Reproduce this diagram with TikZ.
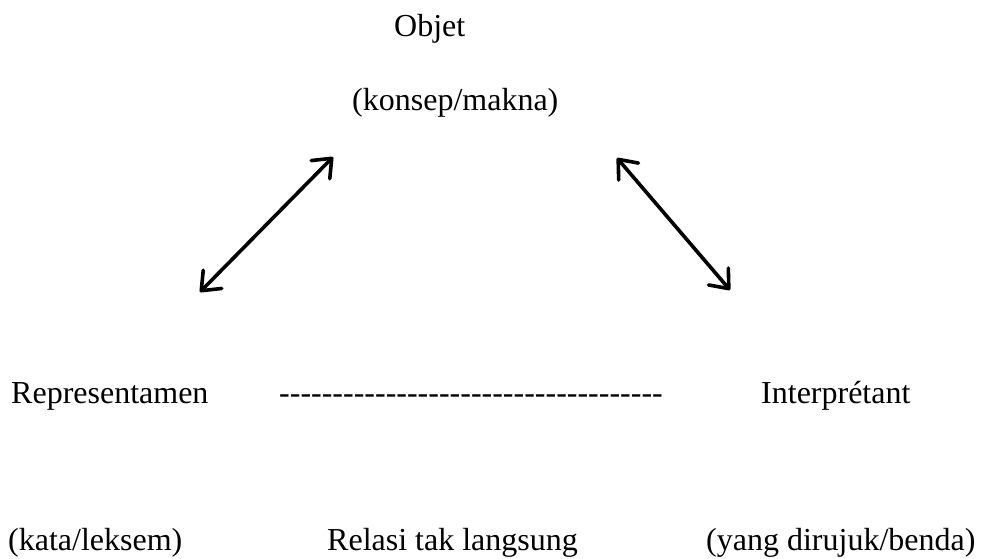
\documentclass[tikz,border=0pt]{standalone}
\usepackage{fontspec}
\setmainfont{Liberation Serif}
\usetikzlibrary{arrows.meta}

\def\fs{\fontsize{32pt}{38pt}\selectfont}
\def\garis{\foreach \i in {1,...,36}{-}}

\begin{document}
\begin{tikzpicture}[x=1pt,y=1pt,
  lbl/.style={anchor=base west,inner sep=0pt,font=\fs},
  arr/.style={line width=3.6pt,line cap=round,{Straight Barb[round,length=16pt,width=26pt]}-{Straight Barb[round,length=16pt,width=26pt]}}]
\useasboundingbox (0,0) rectangle (987,-558);
\fill[white] (0,0) rectangle (987,-558);
% top
\node[lbl] (objet) at (394,-36) {Objet};
\node[lbl] (konsep) at (352,-110) {(konsep/makna)};
% middle row
\node[lbl] (repr) at (11,-403) {Representamen};
\node[lbl] (garis) at (279,-403) {\garis};
\node[lbl] (interp) at (761,-403) {Interprétant};
% bottom row
\node[lbl] (kata) at (8,-550) {(kata/leksem)};
\node[lbl] (relasi) at (327,-550) {Relasi tak langsung};
\node[lbl] (benda) at (706,-550) {(yang dirujuk/benda)};
% arrows
\coordinate (a1) at (200,-292);
\coordinate (a2) at (333,-157);
\coordinate (b1) at (617,-158);
\coordinate (b2) at (730,-290);
\draw[arr] (a1) -- (a2);
\draw[arr] (b1) -- (b2);
\end{tikzpicture}
\end{document}
